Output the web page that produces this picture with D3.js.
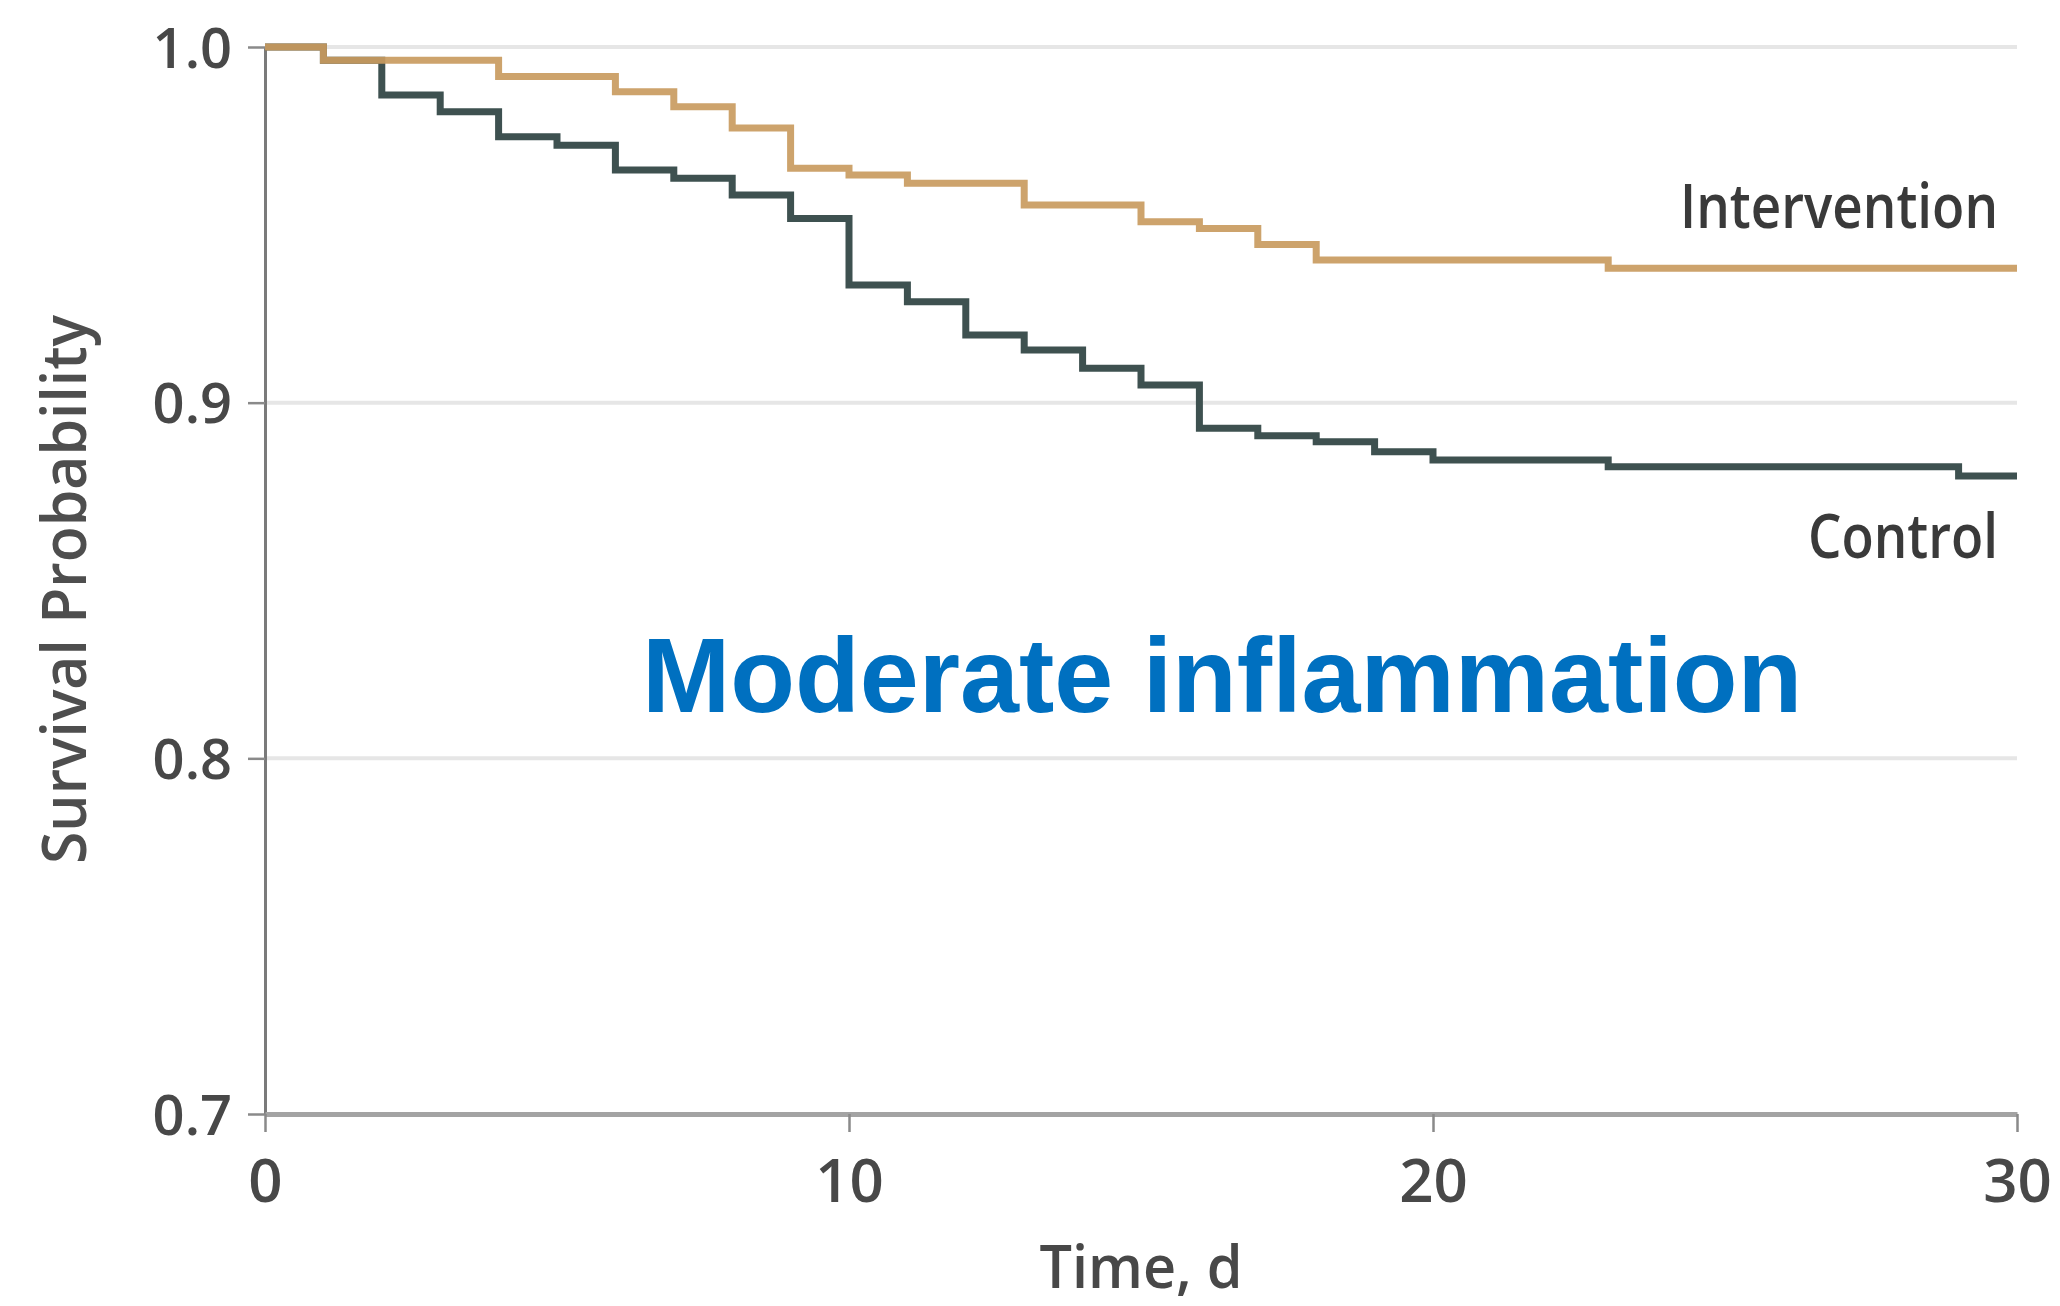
<!DOCTYPE html>
<html>
<head>
<meta charset="utf-8">
<script src="https://cdn.jsdelivr.net/npm/d3@7"></script>
<style>
  html, body { margin: 0; padding: 0; background: #ffffff; }
  svg { display: block; }
</style>
</head>
<body>
<svg id="chart" width="2060" height="1306"></svg>
<script>
// Kaplan-Meier step data: each value holds from its day until the next day
const interventionDays = [0, 1, 4, 6, 7, 8, 9, 10, 11, 13, 15, 16, 17, 18, 23, 30];
const interventionSurvival = [1.0, 0.9963, 0.9917, 0.9874, 0.9832, 0.9772, 0.9659, 0.9640, 0.9617, 0.9556, 0.9509, 0.9490, 0.9445, 0.9401, 0.9378, 0.9378];

const controlDays = [0, 1, 2, 3, 4, 5, 6, 7, 8, 9, 10, 11, 12, 13, 14, 15, 16, 17, 18, 19, 20, 23, 29, 30];
const controlSurvival = [1.0, 0.9963, 0.9865, 0.9818, 0.9748, 0.9724, 0.9654, 0.9631, 0.9584, 0.9518, 0.9331, 0.9284, 0.9190, 0.9148, 0.9097, 0.9050, 0.8928, 0.8907, 0.8890, 0.8862, 0.8839, 0.8820, 0.8794, 0.8794];

const xTicks = [0, 10, 20, 30];
const yTicks = [0.7, 0.8, 0.9, 1.0];
const gridValues = [0.8, 0.9, 1.0];

const seriesNames = ["Intervention", "Control"];
const xTitle = "Time, d";
const yTitle = "Survival Probability";
const panelTitle = "Moderate inflammation";

const svg = d3.select("#chart");
const x = d3.scaleLinear().domain([0, 30]).range([265, 2017]);
const y = d3.scaleLinear().domain([0.7, 1.0]).range([1114, 47]);

const labelFont = "'Open Sans', 'Noto Sans', sans-serif";

// horizontal reference lines
svg.append("g").selectAll("line").data(gridValues).join("line")
  .attr("x1", x(0)).attr("x2", x(30))
  .attr("y1", d => y(d)).attr("y2", d => y(d))
  .attr("stroke", "#e6e6e6").attr("stroke-width", 4);

// y axis
const yAxis = svg.append("g").attr("transform", `translate(${x(0)},0)`)
  .call(d3.axisLeft(y).tickValues(yTicks).tickFormat(d3.format(".1f"))
    .tickSize(17).tickSizeOuter(0).tickPadding(16));
yAxis.select(".domain").attr("stroke", "#7a7a7a").attr("stroke-width", 3);
yAxis.selectAll(".tick line").attr("stroke", "#8a8a8a").attr("stroke-width", 2.5);
yAxis.selectAll(".tick text")
  .attr("font-family", labelFont).attr("font-size", 56).attr("font-weight", 600)
  .attr("fill", "#484848").attr("dy", "0.36em");

// x axis
const xAxis = svg.append("g").attr("transform", `translate(0,${y(0.7)})`)
  .call(d3.axisBottom(x).tickValues(xTicks).tickFormat(d3.format("d"))
    .tickSize(18).tickSizeOuter(0));
xAxis.select(".domain").attr("stroke", "#a3a3a3").attr("stroke-width", 5);
xAxis.selectAll(".tick line").attr("stroke", "#8a8a8a").attr("stroke-width", 2.5);
xAxis.selectAll(".tick text")
  .attr("font-family", labelFont).attr("font-size", 60).attr("font-weight", 600)
  .attr("fill", "#484848").attr("y", 88).attr("dy", 0);

// survival curves
const line = d3.line().x(d => x(d[0])).y(d => y(d[1])).curve(d3.curveStepAfter);
const controlPoints = d3.zip(controlDays, controlSurvival);
const interventionPoints = d3.zip(interventionDays, interventionSurvival);

svg.append("path").datum(controlPoints)
  .attr("d", line).attr("fill", "none")
  .attr("stroke", "#3e5150").attr("stroke-width", 7);
svg.append("path").datum(interventionPoints)
  .attr("d", line).attr("fill", "none")
  .attr("stroke", "#c99b5f").attr("stroke-width", 7).attr("stroke-opacity", 0.92);

// series labels, right-aligned near the end of each curve
function fittedLabel(text, right, baseline, width, size) {
  svg.append("text")
    .attr("x", right - width).attr("y", baseline)
    .attr("font-family", labelFont).attr("font-size", size).attr("font-weight", 600)
    .attr("fill", "#3a3a3a")
    .attr("textLength", width).attr("lengthAdjust", "spacingAndGlyphs")
    .text(text);
}
fittedLabel(seriesNames[0], 1998, 228, 318, 62);
fittedLabel(seriesNames[1], 1998, 558, 190, 62);

// axis titles
svg.append("text")
  .attr("x", x(15)).attr("y", 1288)
  .attr("text-anchor", "middle")
  .attr("font-family", labelFont).attr("font-size", 60).attr("font-weight", 600)
  .attr("fill", "#484848")
  .attr("textLength", 203).attr("lengthAdjust", "spacingAndGlyphs")
  .text(xTitle);

svg.append("text")
  .attr("transform", "translate(86,864) rotate(-90)")
  .attr("x", 0).attr("y", 0)
  .attr("font-family", labelFont).attr("font-size", 62).attr("font-weight", 600)
  .attr("fill", "#4e4e4e")
  .attr("textLength", 549).attr("lengthAdjust", "spacingAndGlyphs")
  .text(yTitle);

// panel title
svg.append("text")
  .attr("x", 642).attr("y", 712)
  .attr("font-family", "'Liberation Sans', Arial, sans-serif")
  .attr("font-size", 106).attr("font-weight", 700)
  .attr("fill", "#0070c0")
  .text(panelTitle);
</script>
</body>
</html>
